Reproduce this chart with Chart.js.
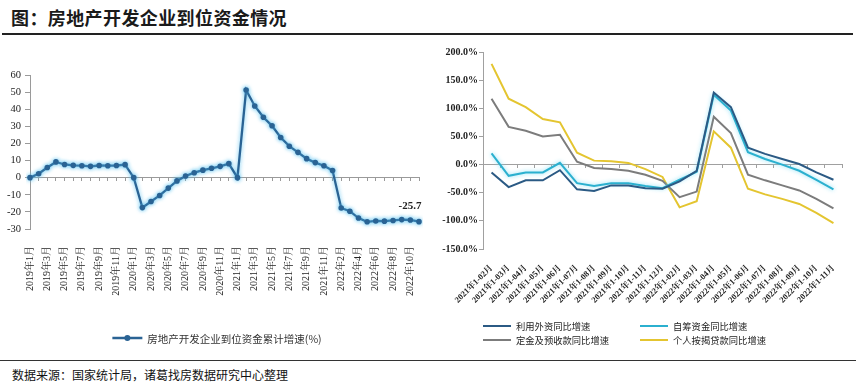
<!DOCTYPE html>
<html>
<head>
<meta charset="utf-8">
<script src="https://cdn.jsdelivr.net/npm/chart.js@4.4.1/dist/chart.umd.min.js"></script>
<style>
html,body{margin:0;padding:0;background:#fff;}
body{width:856px;height:389px;position:relative;overflow:hidden;font-family:"Noto Sans CJK SC",sans-serif;}
#title{position:absolute;left:11px;top:5px;font-size:18px;font-weight:700;color:#1a1a1a;line-height:24px;letter-spacing:0.4px;white-space:nowrap;}
#rule1{position:absolute;left:2px;right:3px;top:33px;height:2px;background:#222;}
#rule2{position:absolute;left:0;right:0;top:360px;height:1px;background:#333;}
#src{position:absolute;left:12px;top:366px;font-size:12px;color:#111;line-height:17px;white-space:nowrap;}
#c1{position:absolute;left:0;top:40px;}
#c2{position:absolute;left:440px;top:40px;}
</style>
</head>
<body>
<div id="title">图：房地产开发企业到位资金情况</div>
<div id="rule1"></div>
<canvas id="c1" width="440" height="315"></canvas>
<canvas id="c2" width="416" height="315"></canvas>
<div id="rule2"></div>
<div id="src">数据来源：国家统计局，诸葛找房数据研究中心整理</div>
<script>
// ---------- Left chart data ----------
const monthLabels = [
  "2019年1月","2019年2月","2019年3月","2019年4月","2019年5月","2019年6月","2019年7月","2019年8月","2019年9月","2019年10月","2019年11月","2019年12月",
  "2020年1月","2020年2月","2020年3月","2020年4月","2020年5月","2020年6月","2020年7月","2020年8月","2020年9月","2020年10月","2020年11月","2020年12月",
  "2021年1月","2021年2月","2021年3月","2021年4月","2021年5月","2021年6月","2021年7月","2021年8月","2021年9月","2021年10月","2021年11月","2021年12月",
  "2022年2月","2022年3月","2022年4月","2022年5月","2022年6月","2022年7月","2022年8月","2022年9月","2022年10月","2022年11月"
];
const fundGrowth = [
  0, 2.3, 5.9, 9.2, 7.7, 7.2, 7.0, 6.6, 7.1, 7.0, 7.1, 7.6,
  0, -17.5, -13.9, -10.4, -6.1, -1.9, 1.0, 2.9, 4.4, 5.5, 6.6, 8.2,
  0, 51.2, 41.9, 35.3, 30.3, 23.5, 18.4, 14.8, 11.1, 8.8, 7.0, 4.2,
  -17.7, -19.6, -23.6, -25.8, -25.3, -25.4, -25.0, -24.5, -24.7, -25.7
];
const leftYTicks = {min: -30, max: 60, step: 10};

// ---------- Right chart data ----------
const periodLabels = [
  "2021年1-02月","2021年1-03月","2021年1-04月","2021年1-05月","2021年1-06月","2021年1-07月","2021年1-08月","2021年1-09月","2021年1-10月","2021年1-11月","2021年1-12月",
  "2022年1-02月","2022年1-03月","2022年1-04月","2022年1-05月","2022年1-06月","2022年1-07月","2022年1-08月","2022年1-09月","2022年1-10月","2022年1-11月"
];
const foreignCapital  = [-14, -40, -28, -28, -10, -44, -47, -37, -37, -42, -43, -30, -11, 128, 102, 30, 19, 10, 1, -14, -27];
const selfRaised      = [20, -20, -14, -14, 3, -33, -38, -33, -33, -38, -42, -27, -13, 124, 96, 22, 10, 0, -11, -27, -44];
const depositsAdvance = [117, 67, 60, 50, 53, 5, -6, -8, -11, -18, -29, -58, -48, 85, 56, -18, -28, -37, -46, -61, -78];
const mortgageLoans   = [179, 117, 102, 81, 75, 21, 7, 6, 3, -8, -22, -76, -65, 59, 30, -43, -53, -61, -70, -86, -104];
const rightYTicks = {min: -150, max: 200, step: 50};

const SERIF = "'Liberation Serif','Noto Serif CJK SC','Noto Sans CJK SC',serif";
const CJK = "'Noto Sans CJK SC',sans-serif";

// glow plugin
const glowPlugin = {
  id: 'glow',
  beforeDatasetDraw(chart, args) {
    const ds = chart.data.datasets[args.index];
    if (ds.glowColor) {
      chart.ctx.save();
      chart.ctx.shadowColor = ds.glowColor;
      chart.ctx.shadowBlur = 4;
    }
  },
  afterDatasetDraw(chart, args) {
    const ds = chart.data.datasets[args.index];
    if (ds.glowColor) chart.ctx.restore();
  }
};

// last value label on left chart
const lastLabelPlugin = {
  id: 'lastLabel',
  afterDatasetsDraw(chart) {
    const meta = chart.getDatasetMeta(0);
    const pt = meta.data[meta.data.length - 1];
    const v = chart.data.datasets[0].data[meta.data.length - 1];
    const ctx = chart.ctx;
    ctx.save();
    ctx.font = "bold 11px " + SERIF;
    ctx.fillStyle = '#222';
    ctx.textAlign = 'center';
    ctx.textBaseline = 'middle';
    ctx.fillText(v.toFixed(1), pt.x - 9, pt.y - 15);
    ctx.restore();
  }
};

// left legend (line with marker)
const leftLegendPlugin = {
  id: 'leftLegend',
  afterDraw(chart) {
    const ctx = chart.ctx;
    const ds = chart.data.datasets[0];
    ctx.save();
    ctx.font = "10.5px " + CJK;
    const tw = ctx.measureText(ds.label).width;
    const total = 30 + 5 + tw;
    const x0 = (chart.width - total) / 2 - 3;
    const y = 298;
    ctx.strokeStyle = ds.borderColor;
    ctx.lineWidth = 2.5;
    ctx.beginPath(); ctx.moveTo(x0, y); ctx.lineTo(x0 + 30, y); ctx.stroke();
    ctx.fillStyle = ds.borderColor;
    ctx.beginPath(); ctx.arc(x0 + 15, y, 3, 0, Math.PI * 2); ctx.fill();
    ctx.fillStyle = '#333';
    ctx.textBaseline = 'middle';
    ctx.fillText(ds.label, x0 + 35, y + 1);
    ctx.restore();
  }
};

// right legend in a 2x2 grid
const gridLegendPlugin = {
  id: 'gridLegend',
  afterDraw(chart) {
    const ctx = chart.ctx;
    const left = chart.chartArea.left;
    const cols = [left, left + 157];
    const rows = [286, 300];
    ctx.save();
    ctx.font = "9.3px " + CJK;
    ctx.textBaseline = 'middle';
    chart.data.datasets.forEach((ds, i) => {
      const x = cols[i % 2], y = rows[Math.floor(i / 2)];
      ctx.strokeStyle = ds.borderColor;
      ctx.lineWidth = 2;
      ctx.beginPath(); ctx.moveTo(x, y); ctx.lineTo(x + 28, y); ctx.stroke();
      ctx.fillStyle = '#222';
      ctx.fillText(ds.label, x + 33, y + 0.5);
    });
    ctx.restore();
  }
};

// ---------- Left chart ----------
new Chart(document.getElementById('c1'), {
  type: 'line',
  data: {
    labels: monthLabels,
    datasets: [{
      label: '房地产开发企业到位资金累计增速(%)',
      data: fundGrowth,
      xAxisID: 'x', yAxisID: 'y',
      borderColor: '#2a6394',
      backgroundColor: '#2a6394',
      borderWidth: 2.3,
      pointRadius: 2.8,
      pointBackgroundColor: '#2a6394',
      pointBorderColor: '#2a6394',
      pointBorderWidth: 0,
      tension: 0,
      glowColor: 'rgba(80,190,240,0.9)'
    }]
  },
  options: {
    responsive: false, animation: false, devicePixelRatio: 1,
    layout: {padding: {top: 35, right: 8, left: 0, bottom: 0}},
    plugins: {legend: {display: false}, tooltip: {enabled: false}},
    scales: {
      x: {
        type: 'category', axis: 'x', position: {y: 0}, offset: false,
        ticks: {display: false},
        grid: {display: true, drawOnChartArea: false, drawTicks: true, tickLength: 3, color: '#9a9a9a'},
        border: {display: true, color: '#9a9a9a', width: 1},
        afterFit(s) { s.height = 0; }
      },
      x2: {
        type: 'category', axis: 'x', position: 'bottom', offset: false,
        grid: {display: false}, border: {display: false},
        ticks: {
          autoSkip: false, maxRotation: 90, minRotation: 90, padding: 9, color: '#222',
          font: {family: SERIF, size: 10},
          callback(v, i) { return i % 2 === 0 ? monthLabels[i] : ''; }
        },
        afterFit(s) { s.height = 126; }
      },
      y: {
        min: leftYTicks.min, max: leftYTicks.max,
        ticks: {stepSize: leftYTicks.step, color: '#222', padding: 4, font: {family: SERIF, size: 10.5}},
        grid: {display: true, drawOnChartArea: false, drawTicks: true, tickLength: 5, color: '#9a9a9a'},
        border: {display: true, color: '#9a9a9a'},
        afterFit(s) { s.width = 30; }
      }
    }
  },
  plugins: [glowPlugin, lastLabelPlugin, leftLegendPlugin]
});

// ---------- Right chart ----------
function ds(label, data, color, glow) {
  return {label, data, xAxisID: 'x', yAxisID: 'y', borderColor: color, backgroundColor: color,
    borderWidth: 2, pointRadius: 0, tension: 0, glowColor: glow || null};
}
new Chart(document.getElementById('c2'), {
  type: 'line',
  data: {
    labels: periodLabels,
    datasets: [
      ds('利用外资同比增速', foreignCapital, '#2b5a84'),
      ds('自筹资金同比增速', selfRaised, '#2bb0cf', 'rgba(120,220,245,0.9)'),
      ds('定金及预收款同比增速', depositsAdvance, '#7c7c7c'),
      ds('个人按揭贷款同比增速', mortgageLoans, '#e4c530')
    ]
  },
  options: {
    responsive: false, animation: false, devicePixelRatio: 1,
    layout: {padding: {top: 12, right: 14, left: 0, bottom: 0}},
    plugins: {legend: {display: false}, tooltip: {enabled: false}},
    scales: {
      x: {
        type: 'category', axis: 'x', position: {y: 0}, offset: true,
        ticks: {display: false},
        grid: {display: true, offset: true, drawOnChartArea: false, drawTicks: true, tickLength: 3, color: '#a0a0a0'},
        border: {display: true, color: '#a0a0a0', width: 1},
        afterFit(s) { s.height = 0; }
      },
      x2: {
        type: 'category', axis: 'x', position: 'bottom', offset: true,
        grid: {display: false}, border: {display: false},
        ticks: {
          autoSkip: false, maxRotation: 45, minRotation: 45, padding: 6, color: '#222',
          font: {family: SERIF, size: 8.5, weight: 'bold'},
          callback(v, i) { return periodLabels[i]; }
        },
        afterFit(s) { s.height = 106; }
      },
      y: {
        min: rightYTicks.min, max: rightYTicks.max,
        ticks: {stepSize: rightYTicks.step, color: '#222', padding: 1,
          font: {family: SERIF, size: 10, weight: 'bold'},
          callback(v) { return v.toFixed(1) + '%'; }},
        grid: {display: true, drawOnChartArea: false, drawTicks: true, tickLength: 4, color: '#a0a0a0'},
        border: {display: true, color: '#a0a0a0'},
        afterFit(s) { s.width = 43; }
      }
    }
  },
  plugins: [glowPlugin, gridLegendPlugin]
});
</script>
</body>
</html>
